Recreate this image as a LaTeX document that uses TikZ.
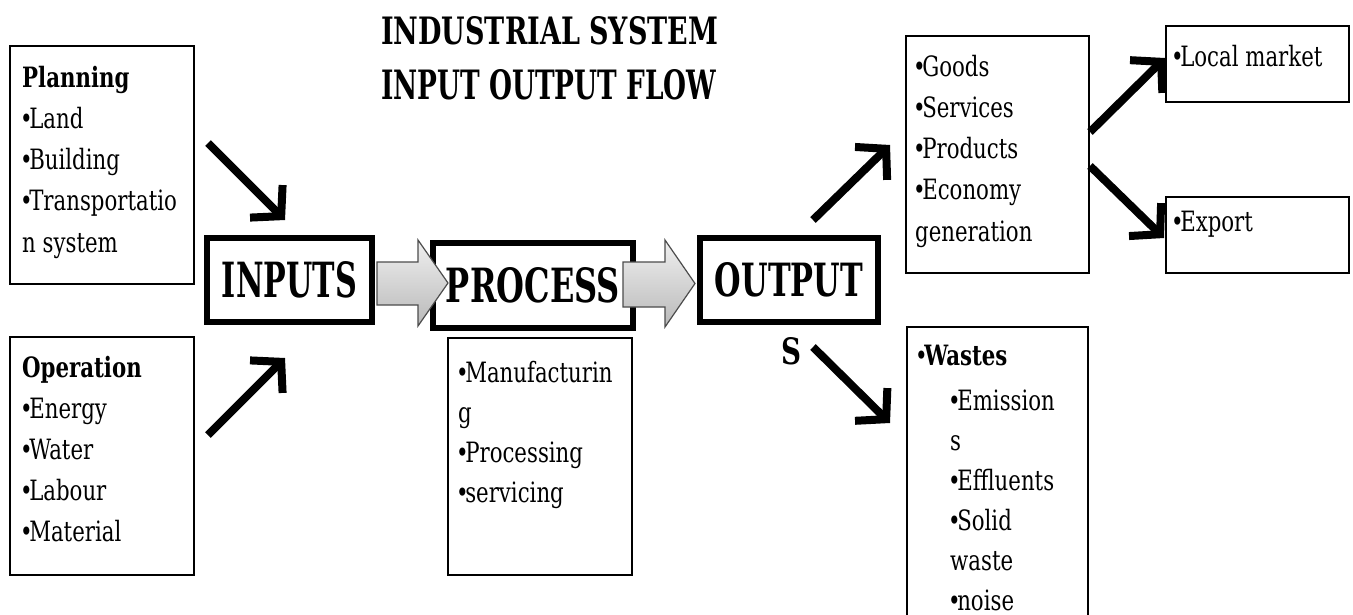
\documentclass[tikz,border=0pt]{standalone}
\usepackage{fontspec}
\setmainfont{DejaVu Serif}[FakeStretch=0.76]
\usepackage{graphicx}
\usetikzlibrary{arrows.meta}

\tikzset{
  thinbox/.style={draw=black, line width=2.5pt, fill=white, rectangle, inner sep=0pt},
  thickbox/.style={draw=black, line width=6.5pt, fill=white, rectangle, inner sep=0pt},
  listline/.style={anchor=base west, inner sep=0pt, font=\fontsize{28}{40}\selectfont},
  heading/.style={anchor=base west, inner sep=0pt},
  flowarrow/.style={line width=8pt, -{Straight Barb[length=21pt,width=46pt]}},
  blockarrow/.style={draw=gray!60!black, line width=1.2pt, top color=gray!12, bottom color=gray!55},
}

% tight list bullet
\newcommand\bul{\kern-2pt•\kern-3.5pt}

% one node per printed line: name, x, first baseline, line step, lines
\newcommand\listlines[5]{%
  \foreach[count=\i] \t in {#5}
    \node[listline] (#1-\i) at (#2,{#3+#4*(\i-1)}) {\t};}

\begin{document}
\begin{tikzpicture}[x=1pt,y=-1pt]
\useasboundingbox (0,0) rectangle (1353,615);
\clip (0,0) rectangle (1353,615);
\fill[white] (0,0) rectangle (1353,615);

% title
\node[heading] (title1) at (381,45) {\resizebox{337pt}{28pt}{\bfseries INDUSTRIAL SYSTEM}};
\node[heading] (title2) at (381,100) {\resizebox{335pt}{30pt}{\bfseries INPUT OUTPUT FLOW}};

% list boxes
\node[thinbox, minimum width=184pt, minimum height=238pt] (plan) at (102,165) {};
\node[thinbox, minimum width=184pt, minimum height=238pt] (oper) at (102,456) {};
\node[thinbox, minimum width=184pt, minimum height=237pt] (proc) at (540,456.5) {};
\node[thinbox, minimum width=183pt, minimum height=237pt] (goods) at (997.5,154.5) {};
\node[thinbox, minimum width=183pt, minimum height=76pt] (local) at (1257.5,64) {};
\node[thinbox, minimum width=183pt, minimum height=76pt] (export) at (1257.5,235) {};
\node[thinbox, minimum width=181pt, minimum height=310pt] (wastes) at (997.5,482) {};

% main stages
\node[thickbox, minimum width=165pt, minimum height=84pt] (inputs) at (289.5,280)
  {\resizebox{135pt}{36pt}{\bfseries INPUTS}};
\node[thickbox, minimum width=200pt, minimum height=85pt] (process) at (533,285.5)
  {\resizebox{174pt}{35pt}{\bfseries PROCESS}};
\node[thickbox, minimum width=178pt, minimum height=84pt] (output) at (789,280)
  {\resizebox{148pt}{34pt}{\bfseries OUTPUT}};
\node[heading] (output-s) at (781,364) {\resizebox{20pt}{27pt}{\bfseries S}};

% list texts
\listlines{plan}{22}{88}{41}{{\textbf{Planning}}, \bul Land, \bul Building, \bul Transportatio, n system}
\listlines{oper}{22}{377}{41.2}{{\textbf{Operation}}, \bul Energy, \bul Water, \bul Labour, \bul Material}
\listlines{proc}{458}{382}{40}{\bul Manufacturin, g, \bul Processing, \bul servicing}
\listlines{goods}{915}{77}{41}{\bul Goods, \bul Services, \bul Products, \bul Economy, generation}
\listlines{local}{1173}{67}{40}{\bul Local market}
\listlines{export}{1173}{232}{40}{\bul Export}
\node[listline] (wastes-head) at (917,365) {\bul\textbf{Wastes}};
\listlines{waste}{950}{410}{40}{\bul Emission, s, \bul Effluents, \bul Solid, waste, \bul noise}

% block arrows between the stages
\path[blockarrow] (377,262) -- (418,262) -- (418,240) -- (448,283) -- (418,326)
  -- (418,305) -- (377,305) -- cycle;
\path[blockarrow] (623,262) -- (665,262) -- (665,240) -- (695,283.5) -- (665,327)
  -- (665,307) -- (623,307) -- cycle;

% connector end points
\coordinate (plan-out) at (208,143);   \coordinate (inputs-in1) at (285,220);
\coordinate (oper-out) at (208,435);   \coordinate (inputs-in2) at (285,358);
\coordinate (output-up) at (813,220);  \coordinate (goods-in) at (890,145);
\coordinate (output-dn) at (813,347);  \coordinate (wastes-in) at (890,423);
\coordinate (goods-up) at (1090,132);  \coordinate (local-in) at (1165,58);
\coordinate (goods-dn) at (1090,166);  \coordinate (export-in) at (1164,238);

\draw[flowarrow] (plan-out) -- (inputs-in1);
\draw[flowarrow] (oper-out) -- (inputs-in2);
\draw[flowarrow] (output-up) -- (goods-in);
\draw[flowarrow] (output-dn) -- (wastes-in);
\draw[flowarrow] (goods-up) -- (local-in);
\draw[flowarrow] (goods-dn) -- (export-in);
\end{tikzpicture}
\end{document}
